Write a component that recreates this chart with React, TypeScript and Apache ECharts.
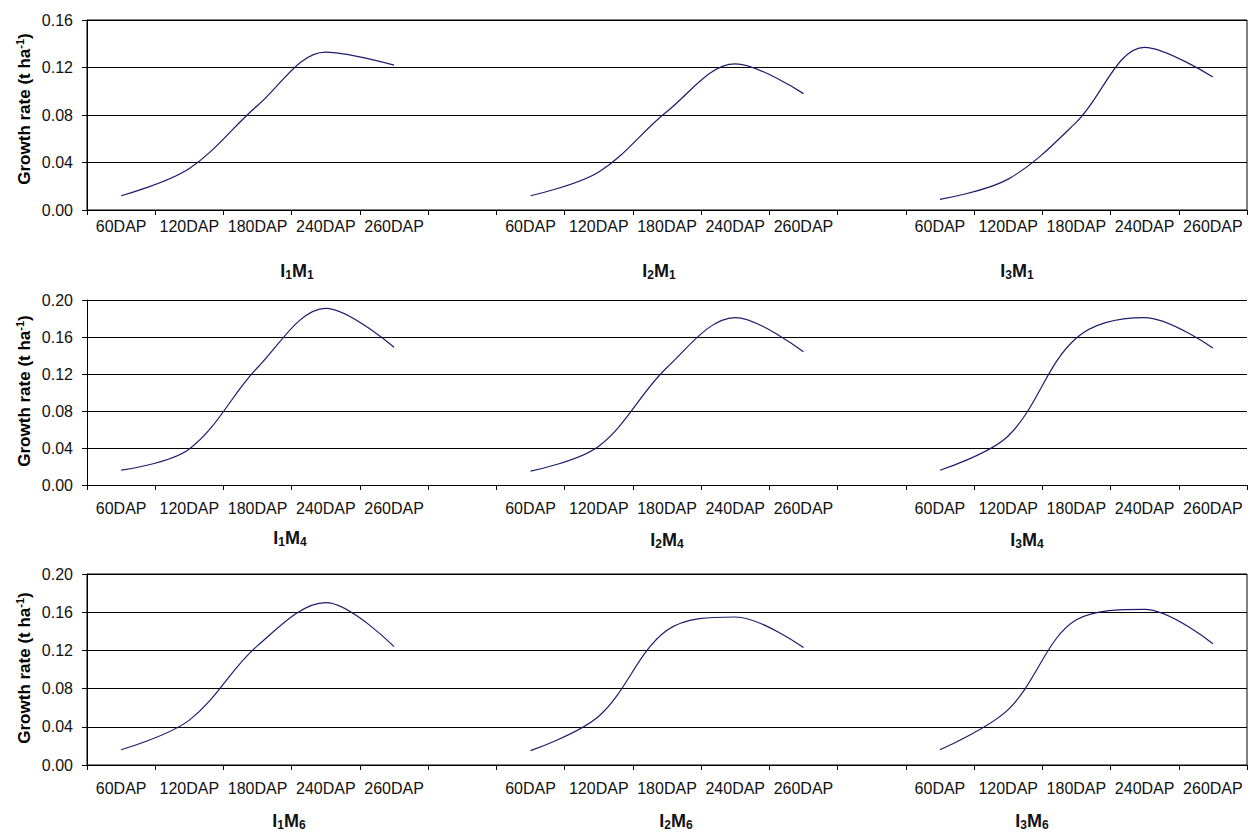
import React, { useEffect, useRef } from "react";
import * as echarts from "echarts";

const categories = ["60DAP", "120DAP", "180DAP", "240DAP", "260DAP"];
const xLabels = [...categories, "", ...categories, "", ...categories];

const I1M1 = [0.012, 0.035, 0.088, 0.133, 0.122];
const I2M1 = [0.012, 0.032, 0.083, 0.123, 0.098];
const I3M1 = [0.009, 0.026, 0.074, 0.137, 0.112];
const I1M4 = [0.016, 0.039, 0.127, 0.191, 0.149];
const I2M4 = [0.015, 0.042, 0.127, 0.181, 0.144];
const I3M4 = [0.016, 0.053, 0.159, 0.181, 0.148];
const I1M6 = [0.016, 0.047, 0.125, 0.170, 0.124];
const I2M6 = [0.015, 0.051, 0.141, 0.155, 0.123];
const I3M6 = [0.016, 0.058, 0.152, 0.163, 0.127];

const rowSeries = [
  [I1M1, I2M1, I3M1],
  [I1M4, I2M4, I3M4],
  [I1M6, I2M6, I3M6],
];
const rowMax = [0.16, 0.2, 0.2];
const rowTitles = [
  [["1", "1"], ["2", "1"], ["3", "1"]],
  [["1", "4"], ["2", "4"], ["3", "4"]],
  [["1", "6"], ["2", "6"], ["3", "6"]],
];
const yName = "Growth rate (t ha";

const FONT = "Arial, 'Liberation Sans', sans-serif";
const LINE_COLOR = "#1c1c6c";

// layout
const grids = [
  { left: 87, top: 20, width: 1160, height: 190, border: true, labelMargin: 8 },
  { left: 87, top: 300, width: 1160, height: 185, border: false, labelMargin: 15 },
  { left: 87, top: 574, width: 1160, height: 191, border: true, labelMargin: 15 },
];
const titlePos = [
  [[297, 271], [659, 271], [1017, 271]],
  [[290, 538], [667, 540], [1027, 540]],
  [[289, 821], [676, 821], [1032, 821]],
];
const yNamePos = [
  [24, 109],
  [24, 391],
  [24, 668],
];

function groupData(vals: number[], g: number) {
  const arr: (number | null)[] = xLabels.map(() => null);
  vals.forEach((v, k) => {
    arr[g * 6 + k] = v;
  });
  return arr;
}

export default function App() {
  const ref = useRef<HTMLDivElement>(null);
  useEffect(() => {
    if (!ref.current) return;
    const chart = echarts.init(ref.current, undefined, { renderer: "svg" });

    const grid = grids.map((g) => ({
      left: g.left,
      top: g.top,
      width: g.width,
      height: g.height,
      show: g.border,
      borderColor: "#000",
      borderWidth: 1,
      backgroundColor: "transparent",
    }));

    const xAxis = grids.map((g, i) => ({
      type: "category",
      gridIndex: i,
      data: xLabels,
      boundaryGap: true,
      axisLine: { lineStyle: { color: "#000", width: 1 } },
      axisTick: { show: true, interval: 0, length: 5, lineStyle: { color: "#000" } },
      axisLabel: {
        interval: 0,
        margin: g.labelMargin,
        fontFamily: FONT,
        fontSize: 16,
        color: "#111",
      },
      splitLine: { show: false },
    }));

    const yAxis = grids.map((g, i) => ({
      type: "value",
      gridIndex: i,
      min: 0,
      max: rowMax[i],
      interval: 0.04,
      axisLine: { show: true, lineStyle: { color: "#000", width: 1 } },
      axisTick: { show: true, length: 5, lineStyle: { color: "#000" } },
      axisLabel: {
        margin: 14,
        fontFamily: FONT,
        fontSize: 16,
        color: "#111",
        formatter: (v: number) => v.toFixed(2),
      },
      splitLine: { show: true, lineStyle: { color: "#000", width: 1 } },
    }));

    const series: any[] = [];
    rowSeries.forEach((row, i) => {
      row.forEach((vals, g) => {
        series.push({
          type: "line",
          xAxisIndex: i,
          yAxisIndex: i,
          data: groupData(vals, g),
          smooth: 0.35,
          showSymbol: false,
          symbol: "none",
          connectNulls: false,
          lineStyle: { color: LINE_COLOR, width: 1.2 },
          emphasis: { disabled: true },
        });
      });
    });

    const graphic: any[] = [];
    rowTitles.forEach((row, i) => {
      row.forEach(([a, b], g) => {
        const [x, y] = titlePos[i][g];
        graphic.push({
          type: "text",
          x,
          y,
          style: {
            text: `{m|I}{s|${a}}{m|M}{s|${b}}`,
            align: "center",
            verticalAlign: "middle",
            rich: {
              m: { fontFamily: FONT, fontSize: 18, fontWeight: "bold", fill: "#111", lineHeight: 20 },
              s: {
                fontFamily: FONT,
                fontSize: 12,
                fontWeight: "bold",
                fill: "#111",
                lineHeight: 12,
                verticalAlign: "bottom",
                padding: [6, 0, 0, 0],
              },
            },
          },
        });
      });
    });
    yNamePos.forEach(([x, y]) => {
      graphic.push({
        type: "text",
        x,
        y,
        rotation: Math.PI / 2,
        style: {
          text: `{a|${yName}}{b|-1}{a|)}`,
          align: "center",
          verticalAlign: "middle",
          rich: {
            a: { fontFamily: FONT, fontSize: 17, fontWeight: "bold", fill: "#000", lineHeight: 20 },
            b: {
              fontFamily: FONT,
              fontSize: 11,
              fontWeight: "bold",
              fill: "#000",
              lineHeight: 10,
              verticalAlign: "top",
            },
          },
        },
      });
    });

    chart.setOption({
      animation: false,
      backgroundColor: "#fff",
      grid,
      xAxis,
      yAxis,
      series,
      graphic,
    });
    return () => chart.dispose();
  }, []);

  return (
    <div
      ref={ref}
      style={{ position: "fixed", left: 0, top: 0, width: 1248, height: 836, background: "#fff" }}
    />
  );
}
